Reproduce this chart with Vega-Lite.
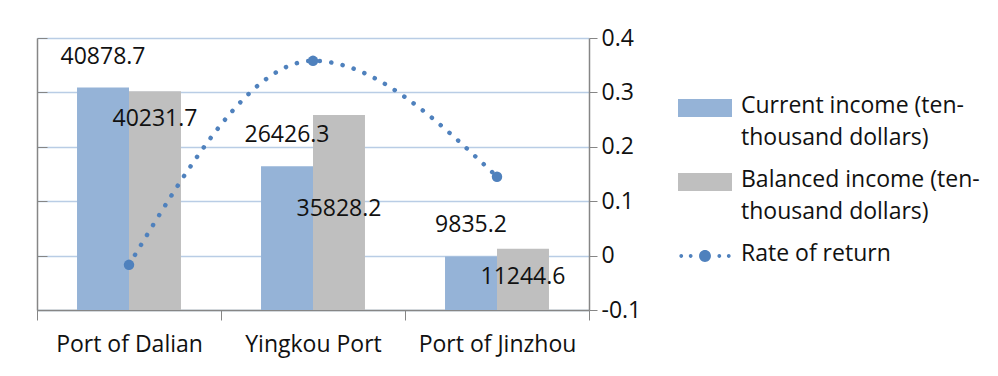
{
  "$schema": "https://vega.github.io/schema/vega-lite/v6.json",
  "autosize": "none",
  "width": 552,
  "height": 272,
  "padding": {"left": 37, "top": 38, "right": 409, "bottom": 66},
  "background": "white",
  "config": {
    "font": "Open Sans",
    "view": {"stroke": null},
    "axis": {"labelFont": "Open Sans", "labelFontSize": 23, "labelColor": "#111111", "domainColor": "#868686", "tickColor": "#868686", "title": null}
  },
  "datasets": {
    "bars": [
      {"port": "Port of Dalian", "series": "Current income (ten-thousand dollars)", "value": 40878.7},
      {"port": "Port of Dalian", "series": "Balanced income (ten-thousand dollars)", "value": 40231.7},
      {"port": "Yingkou Port", "series": "Current income (ten-thousand dollars)", "value": 26426.3},
      {"port": "Yingkou Port", "series": "Balanced income (ten-thousand dollars)", "value": 35828.2},
      {"port": "Port of Jinzhou", "series": "Current income (ten-thousand dollars)", "value": 9835.2},
      {"port": "Port of Jinzhou", "series": "Balanced income (ten-thousand dollars)", "value": 11244.6}
    ],
    "rate": [
      {"port": "Port of Dalian", "rate": -0.017},
      {"port": "Yingkou Port", "rate": 0.358},
      {"port": "Port of Jinzhou", "rate": 0.145}
    ]
  },
  "layer": [
    {
      "data": {"name": "bars"},
      "layer": [
        {
          "mark": {"type": "bar"},
          "encoding": {
            "x": {"field": "port", "type": "nominal", "sort": ["Port of Dalian", "Yingkou Port", "Port of Jinzhou"],
                  "scale": {"paddingInner": 0, "paddingOuter": 0},
                  "axis": {"labelAngle": 0, "tickBand": "extent", "tickSize": 10, "labelPadding": 13, "labelBaseline": "top", "domainWidth": 1.5}},
            "xOffset": {"field": "series", "type": "nominal",
                        "sort": ["Current income (ten-thousand dollars)", "Balanced income (ten-thousand dollars)"],
                        "scale": {"paddingInner": 0, "paddingOuter": 0.77}},
            "y": {"field": "value", "type": "quantitative",
                  "scale": {"domain": [0, 50000], "nice": false},
                  "axis": {"orient": "left", "labels": false, "tickSize": -10, "grid": false, "values": [0, 10000, 20000, 30000, 40000, 50000], "domainWidth": 1.5}},
            "color": {"field": "series", "type": "nominal",
                      "scale": {"domain": ["Current income (ten-thousand dollars)", "Balanced income (ten-thousand dollars)", "Rate of return"],
                                "range": ["#95b3d7", "#bfbfbf", "#4f81bd"]},
                      "legend": {
                        "title": null,
                        "orient": "none",
                        "legendX": 641,
                        "legendY": 43,
                        "labelFont": "Open Sans",
                        "labelFontSize": 23,
                        "labelColor": "#111111",
                        "labelBaseline": "top",
                        "labelOffset": 9,
                        "labelLimit": 400,
                        "rowPadding": 5,
                        "symbolSize": 2916,
                        "labelExpr": "datum.label == 'Current income (ten-thousand dollars)' ? ['Current income (ten-', 'thousand dollars)'] : datum.label == 'Balanced income (ten-thousand dollars)' ? ['Balanced income (ten-', 'thousand dollars)'] : datum.label",
                        "encode": {
                          "labels": {"update": {"dy": {"value": -13}, "lineHeight": {"value": 32}}},
                          "symbols": {"update": {
                            "shape": {"signal": "datum.label == 'Rate of return' ? 'M-0.95,0a0.07,0.07 0 1,0 0.14,0a0.07,0.07 0 1,0 -0.14,0ZM-0.6,0a0.07,0.07 0 1,0 0.14,0a0.07,0.07 0 1,0 -0.14,0ZM-0.22,0a0.22,0.22 0 1,0 0.44,0a0.22,0.22 0 1,0 -0.44,0ZM0.46,0a0.07,0.07 0 1,0 0.14,0a0.07,0.07 0 1,0 -0.14,0ZM0.81,0a0.07,0.07 0 1,0 0.14,0a0.07,0.07 0 1,0 -0.14,0Z' : 'M-1,-0.333H1V0.333H-1Z'"},
                            "strokeWidth": {"value": 0},
                            "fillOpacity": {"value": 1}
                          }}
                        }
                      }}
          }
        },
        {
          "transform": [{"filter": "datum.series == 'Current income (ten-thousand dollars)'"}],
          "mark": {"type": "text", "dy": -31, "fontSize": 23, "color": "#111111", "baseline": "middle"},
          "encoding": {
            "x": {"field": "port", "type": "nominal", "sort": ["Port of Dalian", "Yingkou Port", "Port of Jinzhou"]},
            "xOffset": {"field": "series", "type": "nominal", "sort": ["Current income (ten-thousand dollars)", "Balanced income (ten-thousand dollars)"]},
            "y": {"field": "value", "type": "quantitative"},
            "text": {"field": "value", "type": "quantitative", "format": ".1f"}
          }
        },
        {
          "transform": [{"filter": "datum.series == 'Balanced income (ten-thousand dollars)' && datum.port != 'Yingkou Port'"}],
          "mark": {"type": "text", "dy": 28, "fontSize": 23, "color": "#111111", "baseline": "middle"},
          "encoding": {
            "x": {"field": "port", "type": "nominal", "sort": ["Port of Dalian", "Yingkou Port", "Port of Jinzhou"]},
            "xOffset": {"field": "series", "type": "nominal", "sort": ["Current income (ten-thousand dollars)", "Balanced income (ten-thousand dollars)"]},
            "y": {"field": "value", "type": "quantitative"},
            "text": {"field": "value", "type": "quantitative", "format": ".1f"}
          }
        },
        {
          "transform": [{"filter": "datum.series == 'Balanced income (ten-thousand dollars)' && datum.port == 'Yingkou Port'"}],
          "mark": {"type": "text", "dy": 94, "fontSize": 23, "color": "#111111", "baseline": "middle"},
          "encoding": {
            "x": {"field": "port", "type": "nominal", "sort": ["Port of Dalian", "Yingkou Port", "Port of Jinzhou"]},
            "xOffset": {"field": "series", "type": "nominal", "sort": ["Current income (ten-thousand dollars)", "Balanced income (ten-thousand dollars)"]},
            "y": {"field": "value", "type": "quantitative"},
            "text": {"field": "value", "type": "quantitative", "format": ".1f"}
          }
        }
      ]
    },
    {
      "data": {"name": "rate"},
      "layer": [
        {
          "mark": {"type": "line", "interpolate": "monotone", "strokeWidth": 4.5, "strokeDash": [0.1, 11.5], "strokeCap": "round"},
          "encoding": {
            "x": {"field": "port", "type": "nominal", "sort": ["Port of Dalian", "Yingkou Port", "Port of Jinzhou"]},
            "y": {"field": "rate", "type": "quantitative",
                  "scale": {"domain": [-0.1, 0.4], "nice": false},
                  "axis": {"orient": "right", "values": [-0.1, 0, 0.1, 0.2, 0.3, 0.4], "labelExpr": "'' + datum.value", "tickSize": 8, "labelPadding": 4, "grid": true, "gridColor": "#b9cde5", "gridWidth": 1.5, "domainWidth": 1.5}},
            "color": {"datum": "Rate of return"}
          }
        },
        {
          "mark": {"type": "point", "filled": true, "size": 110, "opacity": 1},
          "encoding": {
            "x": {"field": "port", "type": "nominal", "sort": ["Port of Dalian", "Yingkou Port", "Port of Jinzhou"]},
            "y": {"field": "rate", "type": "quantitative"},
            "color": {"datum": "Rate of return"}
          }
        }
      ]
    }
  ],
  "resolve": {"scale": {"y": "independent"}}
}
